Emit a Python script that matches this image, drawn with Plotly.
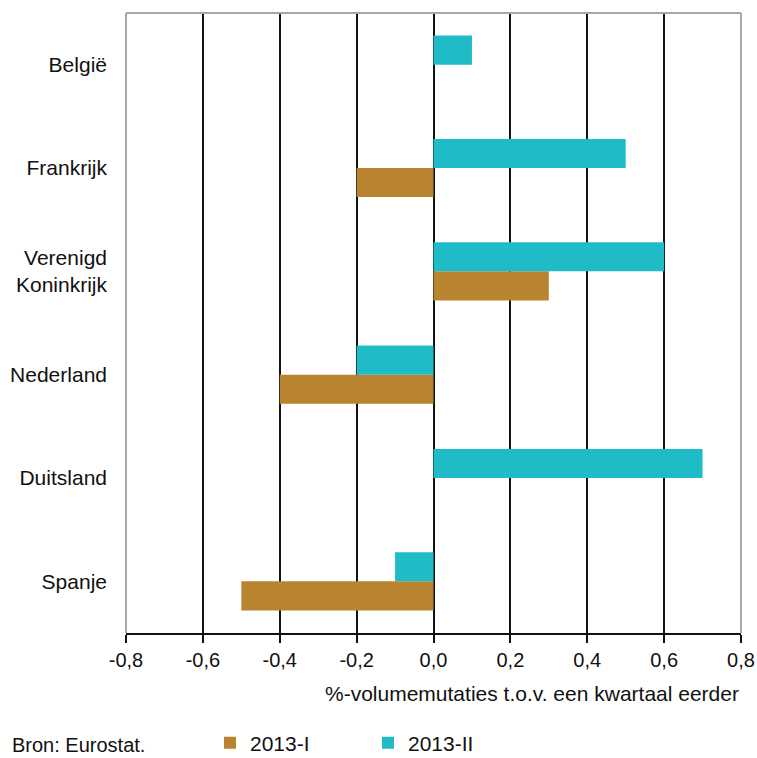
import plotly.graph_objects as go

countries = ["België", "Frankrijk", "Verenigd<br>Koninkrijk", "Nederland", "Duitsland", "Spanje"]
q1_2013 = [0.0, -0.2, 0.3, -0.4, 0.0, -0.5]
q2_2013 = [0.1, 0.5, 0.6, -0.2, 0.7, -0.1]
series_names = ["2013-I", "2013-II"]
colors = ["#B88430", "#1FBBC6"]
x_ticks = [-0.8, -0.6, -0.4, -0.2, 0.0, 0.2, 0.4, 0.6, 0.8]
x_ticklabels = ["-0,8", "-0,6", "-0,4", "-0,2", "0,0", "0,2", "0,4", "0,6", "0,8"]

W, H = 757, 758
L, R, T, B = 126, 16, 13, 125
ph = H - T - B

def py(pixel_y):
    return (H - B - pixel_y) / ph

def px(pixel_x):
    return (pixel_x - L) / (W - L - R)

font = dict(family="Liberation Sans, Arial, sans-serif", size=21, color="#111111")
tickfont = dict(family="Liberation Sans, Arial, sans-serif", size=20, color="#111111")

fig = go.Figure()
for name, vals, col in zip(series_names, [q1_2013, q2_2013], colors):
    fig.add_trace(go.Bar(
        y=countries, x=vals, name=name, orientation="h",
        marker=dict(color=col, line=dict(width=0)),
    ))

fig.update_layout(
    width=W, height=H,
    margin=dict(l=L, r=R, t=T, b=B, autoexpand=False),
    paper_bgcolor="white", plot_bgcolor="white",
    font=font,
    barmode="group", bargap=0.437, bargroupgap=0,
    showlegend=True,
    legend=dict(orientation="h", x=px(210), xanchor="left", y=py(743), yanchor="middle",
                font=font, entrywidth=113, entrywidthmode="pixels",
                itemwidth=30, bgcolor="rgba(0,0,0,0)"),
    xaxis=dict(range=[-0.8, 0.8], tickvals=x_ticks, ticktext=x_ticklabels,
               showgrid=True, gridcolor="#111111", gridwidth=2,
               zeroline=True, zerolinecolor="#111111", zerolinewidth=2,
               showline=True, linecolor="#111111", linewidth=2,
               ticks="outside", ticklen=8, tickwidth=2, tickcolor="#111111",
               tickfont=tickfont, automargin=False, fixedrange=True),
    yaxis=dict(categoryorder="array", categoryarray=countries[::-1],
               showgrid=False, zeroline=False, showline=False, ticks="",
               ticklabelstandoff=18, tickfont=font, automargin=False, fixedrange=True),
    shapes=[
        dict(type="line", xref="paper", yref="paper", x0=0, x1=0, y0=0, y1=1,
             line=dict(color="#A8A8A8", width=2)),
        dict(type="line", xref="paper", yref="paper", x0=1, x1=1, y0=0, y1=1,
             line=dict(color="#A8A8A8", width=2)),
        dict(type="line", xref="paper", yref="paper", x0=0, x1=1, y0=1, y1=1,
             line=dict(color="#A8A8A8", width=2)),
    ],
    annotations=[
        dict(text="Bron: Eurostat.", xref="paper", yref="paper",
             x=px(10), y=py(745), xanchor="left", yanchor="middle", showarrow=False, font=tickfont),
        dict(text="%-volumemutaties t.o.v. een kwartaal eerder", xref="paper", yref="paper",
             x=1, y=py(693), xanchor="right", yanchor="middle", showarrow=False, font=font),
    ],
)

fig.write_html("out.html", config={"displayModeBar": False},
               post_script="document.body.style.margin='0';document.body.style.overflow='hidden';")
